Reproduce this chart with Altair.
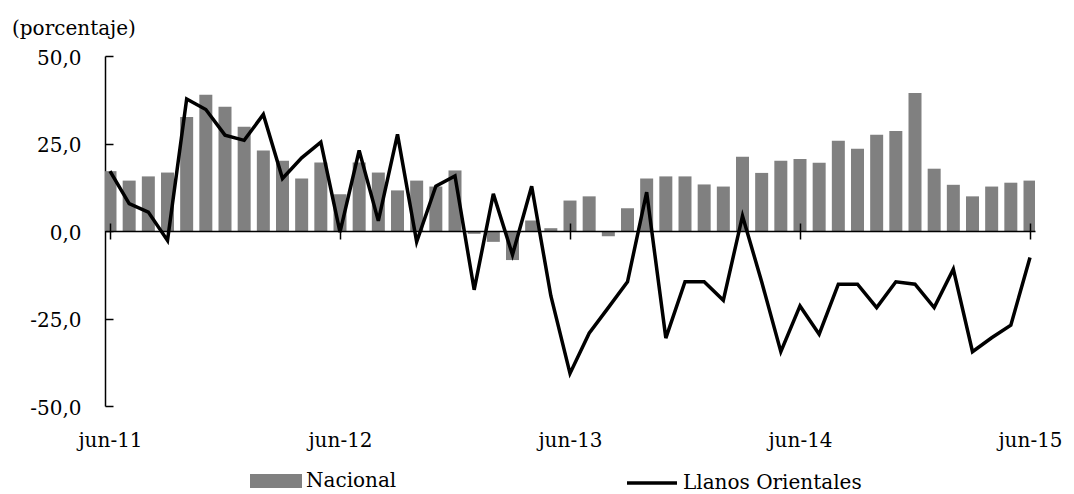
import altair as alt
import pandas as pd

# variación anual (%), jun-11 a jun-15
nacional = [17.1, 14.4, 15.6, 16.7, 32.6, 38.9, 35.5, 29.8, 23.0, 20.1, 15.0, 19.6,
            10.5, 19.6, 16.7, 11.6, 14.4, 12.7, 17.3, -0.8, -3.1, -8.3, 3.0, 0.8,
            8.7, 9.9, -1.5, 6.5, 15.0, 15.6, 15.6, 13.3, 12.7, 21.2, 16.6, 20.1,
            20.6, 19.5, 25.8, 23.5, 27.5, 28.6, 39.4, 17.8, 13.2, 9.9, 12.7, 13.8,
            14.4]
llanos = [17.1, 7.8, 5.4, -2.7, 37.7, 34.7, 27.4, 25.9, 33.3, 15.0, 20.9, 25.4,
          -0.3, 23.0, 2.9, 27.6, -3.1, 12.8, 15.7, -16.8, 10.6, -6.8, 12.8, -18.5,
          -40.7, -29.2, -21.9, -14.5, 11.1, -30.6, -14.5, -14.5, -19.8, 4.3, -14.5, -34.5,
          -21.4, -29.5, -15.2, -15.2, -21.9, -14.5, -15.2, -21.9, -10.9, -34.5, -30.5, -26.9,
          -7.6]

tick_pos = [0, 12, 24, 36, 48]
tick_labels = ["jun-11", "jun-12", "jun-13", "jun-14", "jun-15"]
y_ticks = [-50, -25, 0, 25, 50]

W, H = 930, 350
FONT = "DejaVu Serif"
FS = 20

df = pd.DataFrame({
    "mes": list(range(len(nacional))),
    "Nacional": nacional,
    "Llanos": llanos,
    "s1": "Nacional",
    "s2": "Llanos Orientales",
})

x_scale = alt.Scale(domain=[0, len(nacional) - 1], nice=False, zero=False)
y_scale = alt.Scale(domain=[-50, 50], nice=False)

lbl_expr = "[" + ",".join(f"'{t}'" for t in tick_labels) + "][round(datum.value / 12)]"
num_expr = "(datum.value < 0 ? '-' : '') + replace(format(abs(datum.value), '.1f'), '.', ',')"

bars = alt.Chart(df).mark_bar(size=13, clip=True).encode(
    x=alt.X("mes:Q", scale=x_scale, axis=alt.Axis(
        orient="bottom", offset=-H / 2, values=tick_pos, title=None, grid=False,
        domain=True, domainColor="black", domainWidth=1.5,
        ticks=True, tickColor="black", tickSize=8, tickWidth=1.5,
        labelExpr=lbl_expr, labelPadding=191, labelFont=FONT, labelFontSize=FS,
        labelColor="black", labelFlush=False, labelOverlap=False, zindex=1)),
    y=alt.Y("Nacional:Q", scale=y_scale, axis=alt.Axis(
        orient="left", values=y_ticks, title=None, grid=False,
        domainColor="black", domainWidth=1.5, ticks=False, tickSize=0,
        labelExpr=num_expr, labelPadding=24, labelOffset=2, labelFont=FONT,
        labelFontSize=FS, labelColor="black", labelOverlap=False)),
    fill=alt.Fill("s1:N", scale=alt.Scale(domain=["Nacional"], range=["#808080"]),
                  legend=alt.Legend(title=None, orient="none", legendX=145, legendY=399,
                                    symbolType="M-1,-0.27L1,-0.27L1,0.27L-1,0.27Z",
                                    symbolSize=2704, symbolStrokeWidth=0, padding=0,
                                    labelOffset=4, labelLimit=400, labelFont=FONT,
                                    labelFontSize=FS, labelColor="black")),
)

line = alt.Chart(df).mark_line(strokeWidth=3.5).encode(
    x=alt.X("mes:Q", scale=x_scale, axis=alt.Axis(
        orient="top", offset=-H / 2, values=tick_pos, title=None, grid=False,
        domain=False, ticks=True, tickColor="black", tickSize=8, tickWidth=1.5,
        labels=False, zindex=1)),
    y=alt.Y("Llanos:Q", scale=y_scale, axis=alt.Axis(
        orient="right", offset=-W, values=y_ticks, title=None, grid=False,
        domain=False, ticks=True, tickColor="black", tickSize=8, tickWidth=1.5,
        labels=False)),
    stroke=alt.Stroke("s2:N", scale=alt.Scale(domain=["Llanos Orientales"], range=["black"]),
                      legend=alt.Legend(title=None, orient="none", legendX=520, legendY=400,
                                        symbolType="stroke", symbolSize=2500,
                                        symbolStrokeWidth=3.5, padding=0, labelOffset=4,
                                        labelLimit=400, labelFont=FONT, labelFontSize=FS,
                                        labelColor="black")),
)

chart = (
    alt.layer(bars, line)
    .resolve_scale(x="shared", y="shared", fill="independent", stroke="independent")
    .resolve_axis(x="independent", y="independent")
    .properties(
        width=W, height=H,
        title=alt.TitleParams("(porcentaje)", anchor="start", frame="group", dx=-93,
                              offset=9, font=FONT, fontSize=FS, fontWeight="normal",
                              color="black"),
        padding={"left": 97, "top": 48, "right": 30, "bottom": 88},
        autosize=alt.AutoSizeParams(type="none"),
    )
    .configure_view(stroke=None)
)

chart.save("out.html", embed_options={"renderer": "svg", "actions": False})
